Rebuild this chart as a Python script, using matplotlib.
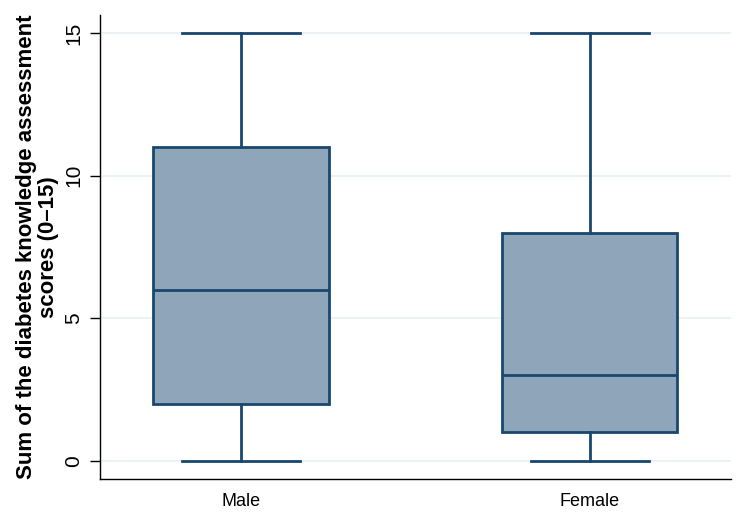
import matplotlib.pyplot as plt

plt.rcParams['font.family'] = ['Liberation Sans', 'DejaVu Sans']

groups = ["Male", "Female"]
whisker_low = [0, 0]
q1 = [2, 1]
median = [6, 3]
q3 = [11, 8]
whisker_high = [15, 15]

navy = "#1a476f"
fill = "#8fa5ba"

stats = []
for g, lo, a, m, b, hi in zip(groups, whisker_low, q1, median, q3, whisker_high):
    stats.append({"label": g, "whislo": lo, "q1": a, "med": m, "q3": b,
                  "whishi": hi, "fliers": []})

fig = plt.figure(figsize=(7.48, 5.19), dpi=100)
ax = fig.add_axes([0.1337, 0.0771, 0.8433, 0.8939])

ax.bxp(stats, positions=[1, 2], widths=0.504, patch_artist=True,
       showfliers=False,
       boxprops=dict(facecolor=fill, edgecolor=navy, linewidth=2),
       medianprops=dict(color=navy, linewidth=2),
       whiskerprops=dict(color=navy, linewidth=2),
       capprops=dict(color=navy, linewidth=2),
       capwidths=0.338, zorder=3)

ax.set_xlim(0.596, 2.405)
ax.set_ylim(-0.63, 15.63)
ax.set_yticks([0, 5, 10, 15])
ax.set_yticklabels(["0", "5", "10", "15"], rotation=90, va="center", fontsize=15)
ax.set_xticks([1, 2])
ax.set_xticklabels(groups, fontsize=13)
ax.tick_params(axis="x", length=0, pad=10)
ax.tick_params(axis="y", length=7, width=1, pad=5)

for y in [0, 5, 10, 15]:
    ax.axhline(y, color="#eaf2f3", linewidth=1.5, zorder=0)

for s in ["top", "right"]:
    ax.spines[s].set_visible(False)
for s in ["left", "bottom"]:
    ax.spines[s].set_linewidth(1)
    ax.spines[s].set_color("#000000")

ax.set_ylabel("Sum of the diabetes knowledge assessment\nscores (0\u201315)",
              fontsize=16, fontweight="bold", labelpad=4, linespacing=1.05)

fig.savefig("out.png", dpi=100)
